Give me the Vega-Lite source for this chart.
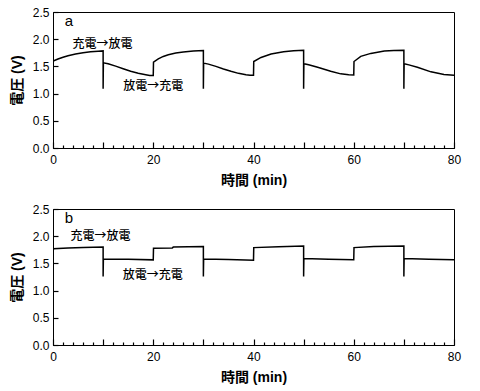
{
  "$schema": "https://vega.github.io/schema/vega-lite/v6.json",
  "padding": {"left": 9, "top": 5, "right": 5, "bottom": 5},
  "spacing": 14,
  "datasets": {
    "a": [
      {"i": 1, "t": 0, "v": 1.55}, {"i": 2, "t": 0.05, "v": 1.6}, {"i": 3, "t": 1, "v": 1.635}, {"i": 4, "t": 2, "v": 1.668},
      {"i": 5, "t": 3, "v": 1.697}, {"i": 6, "t": 4.5, "v": 1.728}, {"i": 7, "t": 6, "v": 1.752}, {"i": 8, "t": 7.5, "v": 1.768},
      {"i": 9, "t": 9, "v": 1.778}, {"i": 10, "t": 10, "v": 1.785}, {"i": 11, "t": 10, "v": 1.09}, {"i": 12, "t": 10.05, "v": 1.565},
      {"i": 13, "t": 11, "v": 1.55}, {"i": 14, "t": 12.5, "v": 1.505}, {"i": 15, "t": 14, "v": 1.458}, {"i": 16, "t": 15.5, "v": 1.412},
      {"i": 17, "t": 17, "v": 1.375}, {"i": 18, "t": 18.5, "v": 1.348}, {"i": 19, "t": 19.3, "v": 1.335}, {"i": 20, "t": 20, "v": 1.335},
      {"i": 21, "t": 20.05, "v": 1.58}, {"i": 22, "t": 21, "v": 1.64}, {"i": 23, "t": 22, "v": 1.683}, {"i": 24, "t": 23, "v": 1.713},
      {"i": 25, "t": 24.5, "v": 1.745}, {"i": 26, "t": 26, "v": 1.765}, {"i": 27, "t": 28, "v": 1.781}, {"i": 28, "t": 30, "v": 1.79},
      {"i": 29, "t": 30, "v": 1.09}, {"i": 30, "t": 30.05, "v": 1.56}, {"i": 31, "t": 31, "v": 1.542}, {"i": 32, "t": 32.5, "v": 1.5},
      {"i": 33, "t": 34, "v": 1.452}, {"i": 34, "t": 35.5, "v": 1.41}, {"i": 35, "t": 37, "v": 1.372}, {"i": 36, "t": 38.5, "v": 1.347},
      {"i": 37, "t": 39.3, "v": 1.336}, {"i": 38, "t": 40, "v": 1.336}, {"i": 39, "t": 40.05, "v": 1.59}, {"i": 40, "t": 41.5, "v": 1.665},
      {"i": 41, "t": 43.5, "v": 1.728}, {"i": 42, "t": 46, "v": 1.77}, {"i": 43, "t": 48, "v": 1.786}, {"i": 44, "t": 50, "v": 1.795},
      {"i": 45, "t": 50, "v": 1.09}, {"i": 46, "t": 50.05, "v": 1.55}, {"i": 47, "t": 51, "v": 1.53}, {"i": 48, "t": 52.8, "v": 1.484},
      {"i": 49, "t": 55.4, "v": 1.41}, {"i": 50, "t": 57.4, "v": 1.363}, {"i": 51, "t": 59, "v": 1.345}, {"i": 52, "t": 60, "v": 1.343},
      {"i": 53, "t": 60.05, "v": 1.59}, {"i": 54, "t": 61.4, "v": 1.685}, {"i": 55, "t": 63.4, "v": 1.739}, {"i": 56, "t": 66.1, "v": 1.783},
      {"i": 57, "t": 68, "v": 1.792}, {"i": 58, "t": 70, "v": 1.796}, {"i": 59, "t": 70, "v": 1.09}, {"i": 60, "t": 70.05, "v": 1.55},
      {"i": 61, "t": 71, "v": 1.528}, {"i": 62, "t": 72.7, "v": 1.484}, {"i": 63, "t": 75.4, "v": 1.4}, {"i": 64, "t": 78, "v": 1.35},
      {"i": 65, "t": 80, "v": 1.335}
    ],
    "b": [
      {"i": 1, "t": 0, "v": 1.7}, {"i": 2, "t": 0.1, "v": 1.77}, {"i": 3, "t": 3, "v": 1.783}, {"i": 4, "t": 6, "v": 1.79},
      {"i": 5, "t": 10, "v": 1.8}, {"i": 6, "t": 10, "v": 1.26}, {"i": 7, "t": 10.05, "v": 1.58}, {"i": 8, "t": 15, "v": 1.575},
      {"i": 9, "t": 20, "v": 1.565}, {"i": 10, "t": 20.05, "v": 1.78}, {"i": 11, "t": 23.8, "v": 1.785}, {"i": 12, "t": 24, "v": 1.8},
      {"i": 13, "t": 30, "v": 1.81}, {"i": 14, "t": 30, "v": 1.26}, {"i": 15, "t": 30.05, "v": 1.58}, {"i": 16, "t": 35, "v": 1.57},
      {"i": 17, "t": 40, "v": 1.56}, {"i": 18, "t": 40.05, "v": 1.79}, {"i": 19, "t": 45, "v": 1.808}, {"i": 20, "t": 50, "v": 1.82},
      {"i": 21, "t": 50, "v": 1.26}, {"i": 22, "t": 50.05, "v": 1.59}, {"i": 23, "t": 55, "v": 1.575}, {"i": 24, "t": 60, "v": 1.568},
      {"i": 25, "t": 60.05, "v": 1.79}, {"i": 26, "t": 64, "v": 1.81}, {"i": 27, "t": 70, "v": 1.82}, {"i": 28, "t": 70, "v": 1.26},
      {"i": 29, "t": 70.05, "v": 1.59}, {"i": 30, "t": 75, "v": 1.575}, {"i": 31, "t": 80, "v": 1.565}
    ],
    "la": [
      {"t": 9.9, "v": 1.92, "label": "充電→放電"},
      {"t": 20.0, "v": 1.14, "label": "放電→充電"}
    ],
    "lb": [
      {"t": 9.5, "v": 2.0, "label": "充電→放電"},
      {"t": 19.9, "v": 1.28, "label": "放電→充電"}
    ],
    "pa": [{"t": 3.2, "v": 2.33, "label": "a"}],
    "pb": [{"t": 3.2, "v": 2.33, "label": "b"}]
  },
  "vconcat": [
    {
      "width": 401,
      "height": 136,
      "encoding": {
        "x": {"field": "t", "type": "quantitative", "scale": {"domain": [0, 80], "nice": false, "zero": false},
          "axis": {"title": "時間 (min)", "values": [0,2,4,6,8,10,12,14,16,18,20,22,24,26,28,30,32,34,36,38,40,42,44,46,48,50,52,54,56,58,60,62,64,66,68,70,72,74,76,78,80],
            "labelExpr": "datum.value % 20 === 0 ? datum.label : ''",
            "tickSize": {"condition": {"test": "datum.value % 10 === 0", "value": -6}, "value": -3},
            "labelPadding": 12, "labelOverlap": false, "labelFlush": false}},
        "y": {"field": "v", "type": "quantitative", "scale": {"domain": [0, 2.5], "nice": false},
          "axis": {"title": "電圧 (V)", "values": [0, 0.5, 1, 1.5, 2, 2.5], "format": ".1f", "tickSize": -5, "labelPadding": 9}}
      },
      "layer": [
        {"data": {"name": "a"}, "mark": {"type": "line", "color": "black", "strokeWidth": 1.5, "clip": true},
          "encoding": {"order": {"field": "i", "type": "quantitative"}}},
        {"data": {"name": "la"}, "mark": {"type": "text", "font": "Noto Sans CJK JP", "fontSize": 12, "fontWeight": 500, "color": "black", "align": "center", "baseline": "middle"},
          "encoding": {"text": {"field": "label"}}},
        {"data": {"name": "pa"}, "mark": {"type": "text", "font": "Liberation Sans", "fontSize": 15, "color": "black", "align": "center", "baseline": "middle"},
          "encoding": {"text": {"field": "label"}}}
      ]
    },
    {
      "width": 401,
      "height": 136,
      "encoding": {
        "x": {"field": "t", "type": "quantitative", "scale": {"domain": [0, 80], "nice": false, "zero": false},
          "axis": {"title": "時間 (min)", "values": [0,2,4,6,8,10,12,14,16,18,20,22,24,26,28,30,32,34,36,38,40,42,44,46,48,50,52,54,56,58,60,62,64,66,68,70,72,74,76,78,80],
            "labelExpr": "datum.value % 20 === 0 ? datum.label : ''",
            "tickSize": {"condition": {"test": "datum.value % 10 === 0", "value": -6}, "value": -3},
            "labelPadding": 12, "labelOverlap": false, "labelFlush": false}},
        "y": {"field": "v", "type": "quantitative", "scale": {"domain": [0, 2.5], "nice": false},
          "axis": {"title": "電圧 (V)", "values": [0, 0.5, 1, 1.5, 2, 2.5], "format": ".1f", "tickSize": -5, "labelPadding": 9}}
      },
      "layer": [
        {"data": {"name": "b"}, "mark": {"type": "line", "color": "black", "strokeWidth": 1.5, "clip": true},
          "encoding": {"order": {"field": "i", "type": "quantitative"}}},
        {"data": {"name": "lb"}, "mark": {"type": "text", "font": "Noto Sans CJK JP", "fontSize": 12, "fontWeight": 500, "color": "black", "align": "center", "baseline": "middle"},
          "encoding": {"text": {"field": "label"}}},
        {"data": {"name": "pb"}, "mark": {"type": "text", "font": "Liberation Sans", "fontSize": 15, "color": "black", "align": "center", "baseline": "middle"},
          "encoding": {"text": {"field": "label"}}}
      ]
    }
  ],
  "config": {
    "background": "white",
    "view": {"stroke": "black", "strokeWidth": 1},
    "axis": {
      "grid": false, "domainColor": "black", "domainWidth": 1, "tickColor": "black", "tickWidth": 1.2,
      "labelColor": "black", "labelFont": "Liberation Sans", "labelFontSize": 12,
      "titleColor": "black", "titleFont": "Liberation Sans, Noto Sans CJK JP", "titleFontSize": 14, "titleFontWeight": "bold"
    },
    "axisX": {"titlePadding": 5},
    "axisY": {"titlePadding": 8}
  }
}
